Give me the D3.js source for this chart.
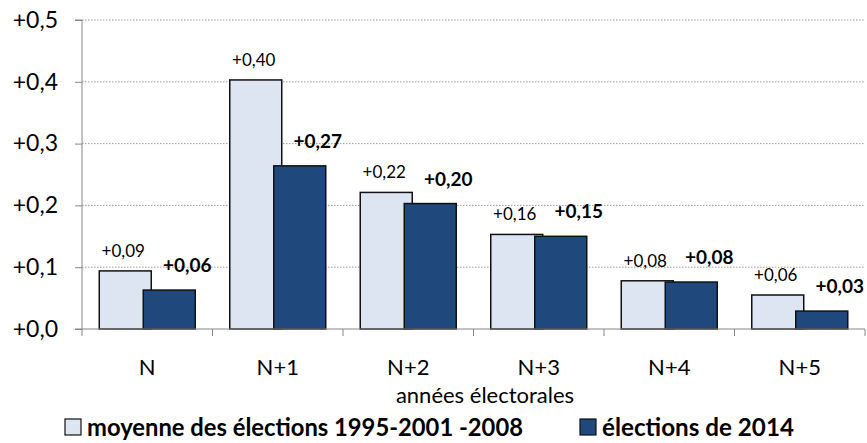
<!DOCTYPE html>
<html><head><meta charset="utf-8">
<script src="https://cdn.jsdelivr.net/npm/d3@7"></script>
<style>body{margin:0;background:#fff}svg{display:block;font-family:Lato,"Noto Sans",sans-serif}</style>
</head><body><svg id="c" width="867" height="443"></svg>
<script>
const categories = ["N","N+1","N+2","N+3","N+4","N+5"];
const moyenneValues = [0.094, 0.403, 0.221, 0.153, 0.078, 0.055];
const moyenneLabels = ["+0,09","+0,40","+0,22","+0,16","+0,08","+0,06"];
const elections2014Values = [0.063, 0.264, 0.203, 0.150, 0.076, 0.029];
const elections2014Labels = ["+0,06","+0,27","+0,20","+0,15","+0,08","+0,03"];
const yTicks = [0, 0.1, 0.2, 0.3, 0.4, 0.5];
const yTickLabels = ["+0,0","+0,1","+0,2","+0,3","+0,4","+0,5"];
const seriesNames = ["moyenne des élections 1995-2001 -2008","élections de 2014"];
const xTitle = "années électorales";

const svg = d3.select("#c");
const L = 82, R = 865, T = 20, B = 329;
const x = d3.scaleBand().domain(categories).range([L, R]);
const y = d3.scaleLinear().domain([0, 0.5]).range([B, T]);
const axisCol = "#868686";
const light = "#dde5f3", dark = "#1f497d";
const bw = 52, off = 22;

// gridlines
svg.append("g").selectAll("line").data(yTicks.slice(1)).join("line")
  .attr("x1", L).attr("x2", R).attr("y1", d => y(d)).attr("y2", d => y(d))
  .attr("stroke", "#9a9a9a").attr("stroke-width", 1).attr("stroke-dasharray", "1.5,1.5");

// y axis
const yAxis = d3.axisLeft(y).tickValues(yTicks).tickSize(7).tickPadding(17)
  .tickFormat((d, i) => yTickLabels[i]);
const gy = svg.append("g").attr("transform", `translate(${L},0)`).call(yAxis);
gy.select(".domain").attr("stroke", axisCol).attr("d", `M-7,${T}H0V${B}H-7`);
gy.selectAll(".tick line").attr("stroke", axisCol);
gy.selectAll("text").attr("font-size", 23).attr("fill", "#000").attr("font-family", "Lato");

// bars
const cx = d => x(d) + x.bandwidth() / 2;
const g = svg.append("g");
g.selectAll("rect.m").data(categories).join("rect").attr("class", "m")
  .attr("x", (d) => cx(d) - off - bw / 2).attr("width", bw)
  .attr("y", (d, i) => y(moyenneValues[i])).attr("height", (d, i) => B - y(moyenneValues[i]))
  .attr("fill", light).attr("stroke", "#111").attr("stroke-width", 1.5);
g.selectAll("rect.e").data(categories).join("rect").attr("class", "e")
  .attr("x", (d) => cx(d) + off - bw / 2).attr("width", bw)
  .attr("y", (d, i) => y(elections2014Values[i])).attr("height", (d, i) => B - y(elections2014Values[i]))
  .attr("fill", dark).attr("stroke", "#111").attr("stroke-width", 1.5);

// x axis
const xAxis = d3.axisBottom(x).tickSize(0).tickPadding(0).tickFormat(() => "");
const gx = svg.append("g").attr("transform", `translate(0,${B})`).call(xAxis);
gx.select(".domain").attr("stroke", axisCol).attr("d", `M${L},0H${R}`);
gx.selectAll(".tick").remove();
const bounds = categories.map((d) => x(d)).concat([R]);
gx.selectAll("line.bt").data(bounds).join("line").attr("class", "bt")
  .attr("x1", d => d).attr("x2", d => d).attr("y1", 0).attr("y2", 7).attr("stroke", axisCol);

svg.append("g").selectAll("text").data(categories).join("text")
  .attr("x", d => cx(d)).attr("y", 375).attr("text-anchor", "middle")
  .attr("font-size", 22).text(d => d);

svg.append("text").attr("x", 485).attr("y", 403).attr("text-anchor", "middle")
  .attr("font-size", 22).text(xTitle);

// data labels
svg.append("g").selectAll("text").data(categories).join("text")
  .attr("x", d => cx(d) - off - 2).attr("y", (d, i) => y(moyenneValues[i]) - 14)
  .attr("text-anchor", "middle").attr("font-size", 17).text((d, i) => moyenneLabels[i]);
svg.append("g").selectAll("text").data(categories).join("text")
  .attr("x", d => cx(d) + off + 18).attr("y", (d, i) => y(elections2014Values[i]) - 18)
  .attr("text-anchor", "middle").attr("font-size", 19).attr("font-weight", "bold")
  .text((d, i) => elections2014Labels[i]);

// legend
const lg = svg.append("g");
const items = [{n: seriesNames[0], c: light, x: 65, w: 436}, {n: seriesNames[1], c: dark, x: 580, w: 192}];
items.forEach(it => {
  lg.append("rect").attr("x", it.x).attr("y", 419).attr("width", 16).attr("height", 16)
    .attr("fill", it.c).attr("stroke", "#111").attr("stroke-width", 1.2);
  lg.append("text").attr("x", it.x + 22).attr("y", 436).attr("font-size", 24)
    .attr("font-weight", "bold").attr("textLength", it.w).attr("lengthAdjust", "spacingAndGlyphs")
    .text(it.n);
});
</script></body></html>
